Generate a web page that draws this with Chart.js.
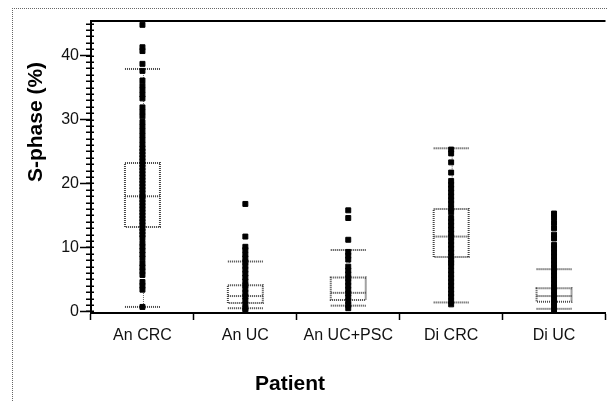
<!DOCTYPE html>
<html>
<head>
<meta charset="utf-8">
<script src="https://cdn.jsdelivr.net/npm/chart.js@4.4.0/dist/chart.umd.min.js"></script>
<style>
  html, body { margin: 0; padding: 0; background: #fff; overflow: hidden; }
  #wrap { position: relative; width: 607px; height: 402px; overflow: hidden; }
  #frame { position: absolute; left: 12px; top: 8px; width: 700px; height: 500px;
           border-left: 1px dotted #666; border-top: 1px dotted #666; }
  canvas { position: absolute; left: 0; top: 0; }
</style>
</head>
<body>
<div id="wrap">
  <div id="frame"></div>
  <canvas id="boxplot" width="610" height="402"></canvas>
</div>
<script>
// categories and box statistics (S-phase %)
const categories = ['An CRC', 'An UC', 'An UC+PSC', 'Di CRC', 'Di UC'];
const whiskerLow  = [0.7, 0.5, 0.9, 1.4, 0.4];
const quartile1   = [13.2, 1.3, 1.8, 8.5, 1.5];
const median      = [18.0, 2.4, 2.9, 11.7, 2.4];
const quartile3   = [23.2, 4.1, 5.3, 16.0, 3.6];
const whiskerHigh = [37.9, 7.8, 9.6, 25.5, 6.6];

const anCrcPoints = [44.8, 41.3, 40.7, 38.7, 37.6, 36.1, 35.3, 34.6, 33.9, 33.3, 31.9, 31.2, 30.5,
  29.6, 28.9, 28.2, 27.5, 26.8, 26.1, 25.5, 25.0, 24.5, 24.0, 23.5, 23.0, 22.5, 22.0, 21.5, 21.0,
  20.5, 20.0, 19.5, 19.0, 18.5, 18.0, 17.5, 17.0, 16.5, 16.0, 15.5, 15.0, 14.5, 14.0, 13.5, 13.0,
  12.5, 12.0, 11.5, 10.7, 10.1, 9.5, 8.9, 8.3, 7.5, 6.9, 6.3, 5.7, 4.6, 4.0, 3.4, 0.7];
const anUcPoints = [16.8, 11.7, 10.1, 9.6, 8.9, 8.3, 7.7, 7.1, 6.5, 5.9, 5.3, 4.7, 4.1, 3.5, 2.9,
  2.3, 1.7, 1.1, 0.5, 0.1];
const anUcPscPoints = [15.8, 14.6, 11.2, 9.3, 8.7, 8.1, 7.0, 6.4, 5.8, 5.2, 4.6, 4.0, 3.4, 2.8,
  2.2, 1.6, 1.0, 0.5];
const diCrcPoints = [25.3, 24.7, 23.3, 21.7, 20.4, 19.8, 19.2, 18.6, 18.0, 17.4, 16.8, 16.1, 15.5,
  14.6, 14.0, 13.4, 12.8, 12.2, 11.6, 11.0, 10.4, 9.8, 9.2, 8.6, 8.0, 7.6, 7.1, 6.4, 5.8, 5.2, 4.6,
  4.0, 3.4, 2.8, 2.3, 1.6, 1.1];
const diUcPoints = [15.3, 14.6, 13.8, 13.0, 12.0, 11.4, 10.4, 9.8, 9.2, 8.6, 8.0, 7.4, 6.8, 6.2,
  5.6, 5.0, 4.4, 3.8, 3.2, 2.6, 2.0, 1.4, 0.8, 0.2];

const yTickLabels = [0, 10, 20, 30, 40];

const pointSets = [anCrcPoints, anUcPoints, anUcPscPoints, diCrcPoints, diUcPoints];
const points = [];
pointSets.forEach((vals, i) => vals.forEach(v => points.push({x: categories[i], y: v})));

const fontFamily = "'Liberation Sans', Arial, Helvetica, sans-serif";

// boxes, whiskers, axis decorations and titles
const boxPlugin = {
  id: 'boxes',
  beforeDatasetsDraw(chart) {
    const {ctx, scales: {x, y}} = chart;
    const half = (x.getPixelForValue(1) - x.getPixelForValue(0)) * 0.17;
    ctx.save();
    categories.forEach((c, i) => {
      const cx = x.getPixelForValue(i);
      const yLo = y.getPixelForValue(whiskerLow[i]);
      const yHi = y.getPixelForValue(whiskerHigh[i]);
      const y1 = y.getPixelForValue(quartile1[i]);
      const yM = y.getPixelForValue(median[i]);
      const y3 = y.getPixelForValue(quartile3[i]);
      // whisker stem (mostly hidden behind the dots)
      ctx.strokeStyle = '#666';
      ctx.lineWidth = 1;
      ctx.setLineDash([1, 1]);
      ctx.beginPath();
      ctx.moveTo(cx + 1, yHi);
      ctx.lineTo(cx + 1, yLo);
      ctx.stroke();
      // box, median and caps
      ctx.strokeStyle = '#444';
      ctx.lineWidth = 2;
      ctx.strokeRect(cx - half, y3, half * 2, y1 - y3);
      [yM, yLo, yHi].forEach(py => {
        ctx.beginPath();
        ctx.moveTo(cx - half, py);
        ctx.lineTo(cx + half, py);
        ctx.stroke();
      });
    });
    ctx.restore();
  },
  afterDraw(chart) {
    const {ctx, chartArea, scales: {y}} = chart;
    ctx.save();
    ctx.setLineDash([]);
    ctx.strokeStyle = '#000';
    // top frame line
    ctx.lineWidth = 2;
    ctx.beginPath();
    ctx.moveTo(chartArea.left - 1, chartArea.top);
    ctx.lineTo(chartArea.right, chartArea.top);
    ctx.stroke();
    // minor ticks crossing the y axis
    ctx.lineWidth = 1.5;
    y.ticks.forEach(t => {
      const py = Math.round(y.getPixelForValue(t.value)) + 0.25;
      ctx.beginPath();
      ctx.moveTo(chartArea.left - 5, py);
      ctx.lineTo(chartArea.left + 3, py);
      ctx.stroke();
    });
    // axis titles
    ctx.fillStyle = '#000';
    ctx.font = 'bold 21px ' + fontFamily;
    ctx.textAlign = 'center';
    ctx.textBaseline = 'middle';
    ctx.fillText('Patient', chartArea.left + 199, 384);
    ctx.translate(chartArea.left - 55, chartArea.top + 101);
    ctx.rotate(-Math.PI / 2);
    ctx.fillText('S-phase (%)', 0, 0);
    ctx.restore();
  }
};

new Chart(document.getElementById('boxplot'), {
  type: 'scatter',
  data: {
    datasets: [{
      label: 'S-phase',
      data: points,
      backgroundColor: '#000',
      borderColor: '#000',
      borderWidth: 1,
      pointStyle: 'rect',
      pointRadius: 3.5,
      pointHoverRadius: 3.5
    }]
  },
  options: {
    responsive: false,
    animation: false,
    layout: { padding: { top: 21, right: 0, left: 0, bottom: 0 } },
    plugins: { legend: { display: false }, tooltip: { enabled: false } },
    scales: {
      x: {
        type: 'category',
        labels: categories,
        offset: true,
        grid: { offset: true, drawOnChartArea: false, tickLength: 7, tickColor: '#000', tickWidth: 1.5 },
        border: { color: '#000', width: 2 },
        ticks: { color: '#111', font: { family: fontFamily, size: 16 }, padding: 6,
                 maxRotation: 0, autoSkip: false },
        afterFit(s) { s.height = 89; }
      },
      y: {
        min: -0.25,
        max: 45.4,
        grid: {
          drawOnChartArea: false,
          tickLength: 11,
          tickWidth: 1.5,
          tickColor: c => (c.tick && yTickLabels.includes(c.tick.value)) ? '#000' : 'rgba(0,0,0,0)'
        },
        border: { color: '#000', width: 2 },
        ticks: {
          stepSize: 1,
          includeBounds: false,
          autoSkip: false,
          padding: 1,
          color: '#111',
          font: { family: fontFamily, size: 16 },
          callback: v => yTickLabels.includes(v) ? String(v) : ''
        },
        afterFit(s) { s.width = 91; }
      }
    }
  },
  plugins: [boxPlugin]
});
</script>
</body>
</html>
